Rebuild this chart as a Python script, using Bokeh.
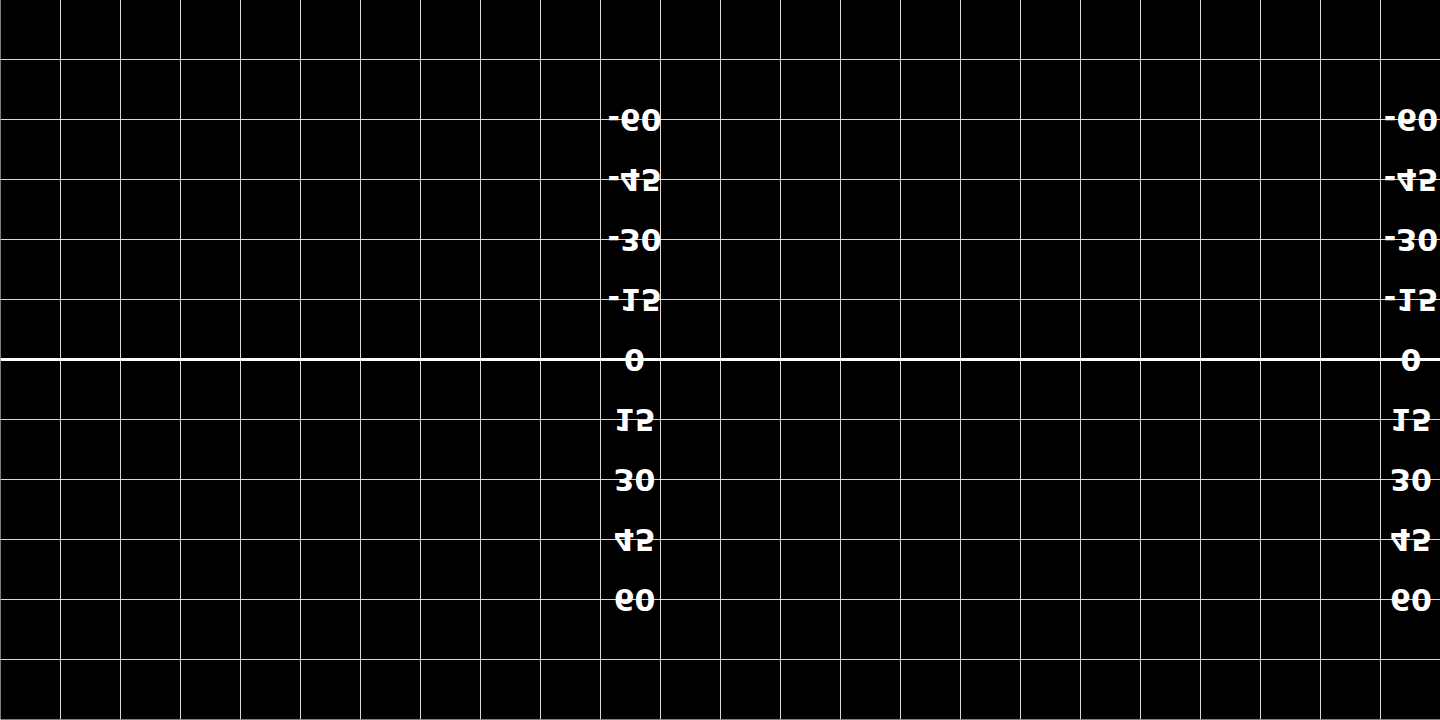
from bokeh.plotting import figure
from bokeh.models import FixedTicker, Span
from bokeh.core.properties import value
from bokeh.embed import file_html
from bokeh.resources import INLINE

# Data: equirectangular graticule with latitude labels
lon_lines = list(range(-180, 181, 15))
lat_lines = list(range(-90, 91, 15))
lat_labels = [-60, -45, -30, -15, 0, 15, 30, 45, 60]
label_lons = [-21.5, 172.6]

p = figure(width=1440, height=720, output_backend="svg", toolbar_location=None,
           x_range=(-180, 180), y_range=(-90, 90), min_border=0,
           background_fill_color="black", border_fill_color="black")
p.outline_line_color = None
p.xaxis.visible = False
p.yaxis.visible = False
p.xgrid.ticker = FixedTicker(ticks=lon_lines)
p.ygrid.ticker = FixedTicker(ticks=lat_lines)
for g in (p.xgrid, p.ygrid):
    g.grid_line_color = "white"
    g.grid_line_width = 1
    g.grid_line_alpha = 0.85

p.add_layout(Span(location=0, dimension="width", line_color="white", line_width=3))

for lon in label_lons:
    xs = [lon] * len(lat_labels)
    p.text(x=xs, y=lat_labels, text=[str(v) for v in lat_labels],
           text_color="white", text_font=value("DejaVu Sans"), text_font_style="bold",
           text_font_size="30px", text_align="center", text_baseline="middle")

p.styles = {"transform": "scaleY(-1)"}

open("out.html", "w").write(file_html(p, INLINE))
